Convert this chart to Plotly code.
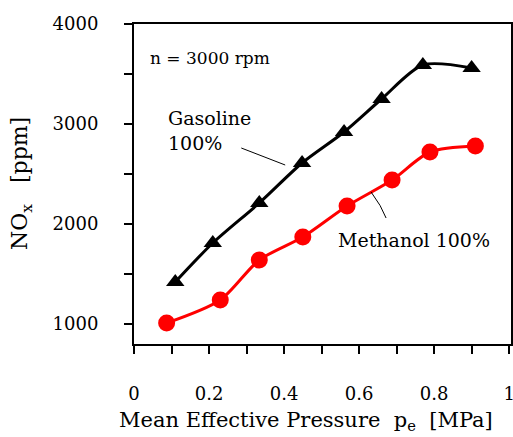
import plotly.graph_objects as go

# Data
gas_x = [0.11, 0.21, 0.334, 0.448, 0.56, 0.66, 0.77, 0.90]
gas_y = [1420, 1810, 2210, 2610, 2920, 3250, 3590, 3560]

meth_x = [0.087, 0.23, 0.334, 0.45, 0.568, 0.688, 0.789, 0.91]
meth_y = [1010, 1240, 1640, 1870, 2180, 2440, 2720, 2780]

x_tickvals = [0, 0.1, 0.2, 0.3, 0.4, 0.5, 0.6, 0.7, 0.8, 0.9, 1.0]
x_ticktext = ["0", "", "0.2", "", "0.4", "", "0.6", "", "0.8", "", "1"]
y_tickvals = [1000, 1500, 2000, 2500, 3000, 3500, 4000]
y_ticktext = ["1000", "", "2000", "", "3000", "", "4000"]

FONT = "DejaVu Serif"

fig = go.Figure()
fig.add_trace(go.Scatter(
    x=gas_x, y=gas_y, mode="lines+markers", name="Gasoline 100%",
    line=dict(color="black", width=3, shape="spline", smoothing=0.8),
    marker=dict(symbol="triangle-up", size=16, color="black"),
))
fig.add_trace(go.Scatter(
    x=meth_x, y=meth_y, mode="lines+markers", name="Methanol 100%",
    line=dict(color="#ff0000", width=3, shape="spline", smoothing=0.8),
    marker=dict(symbol="circle", size=17, color="#ff0000"),
))

axis_common = dict(
    ticks="outside", ticklen=8, tickwidth=2, tickcolor="black",
    showline=True, linecolor="black", linewidth=2, mirror=True,
    showgrid=False, zeroline=False, automargin=False,
    ticklabeloverflow="allow",
    tickfont=dict(family=FONT, size=18),
)

fig.update_layout(
    width=513, height=437,
    margin=dict(l=134, r=2, t=24, b=93),
    paper_bgcolor="white", plot_bgcolor="white",
    showlegend=False,
    font=dict(family=FONT, color="black", size=17),
    xaxis=dict(range=[0, 1.005], tickvals=x_tickvals, ticktext=x_ticktext,
               ticklabelstandoff=24, **axis_common),
    yaxis=dict(range=[800, 4000], tickvals=y_tickvals, ticktext=y_ticktext,
               ticklabelstandoff=22, **axis_common),
    annotations=[
        dict(x=0.036, y=3660, xref="x", yref="y", text="n = 3000 rpm",
             showarrow=False, xanchor="left", yanchor="middle",
             font=dict(family=FONT, size=17)),
        dict(x=0.086, y=2940, xref="x", yref="y", text="Gasoline<br>100%",
             showarrow=False, xanchor="left", yanchor="middle", align="left",
             font=dict(family=FONT, size=19)),
        dict(x=0.538, y=1840, xref="x", yref="y", text="Methanol 100%",
             showarrow=False, xanchor="left", yanchor="middle",
             font=dict(family=FONT, size=19)),
        dict(x=(306 - 134) / 377, y=(344 - 421) / 320, xref="paper", yref="paper",
             text="Mean Effective Pressure  p<sub>e</sub>  [MPa]",
             showarrow=False, xanchor="center", yanchor="middle",
             font=dict(family=FONT, size=21)),
        dict(x=(21 - 134) / 377, y=(344 - 184) / 320, xref="paper", yref="paper",
             text="NO<sub>x</sub>   [ppm]", textangle=-90,
             showarrow=False, xanchor="center", yanchor="middle",
             font=dict(family=FONT, size=22)),
    ],
    shapes=[
        dict(type="line", xref="x", yref="y", x0=0.286, y0=2760, x1=0.403, y1=2590,
             line=dict(color="black", width=1)),
        dict(type="path", xref="x", yref="y",
             path="M 0.632,2320 Q 0.66,2180 0.672,2060",
             line=dict(color="black", width=1)),
    ],
)

fig.write_html(
    "out.html",
    config={"displayModeBar": False},
    post_script="document.body.style.margin='0';document.body.style.overflow='hidden';",
)
